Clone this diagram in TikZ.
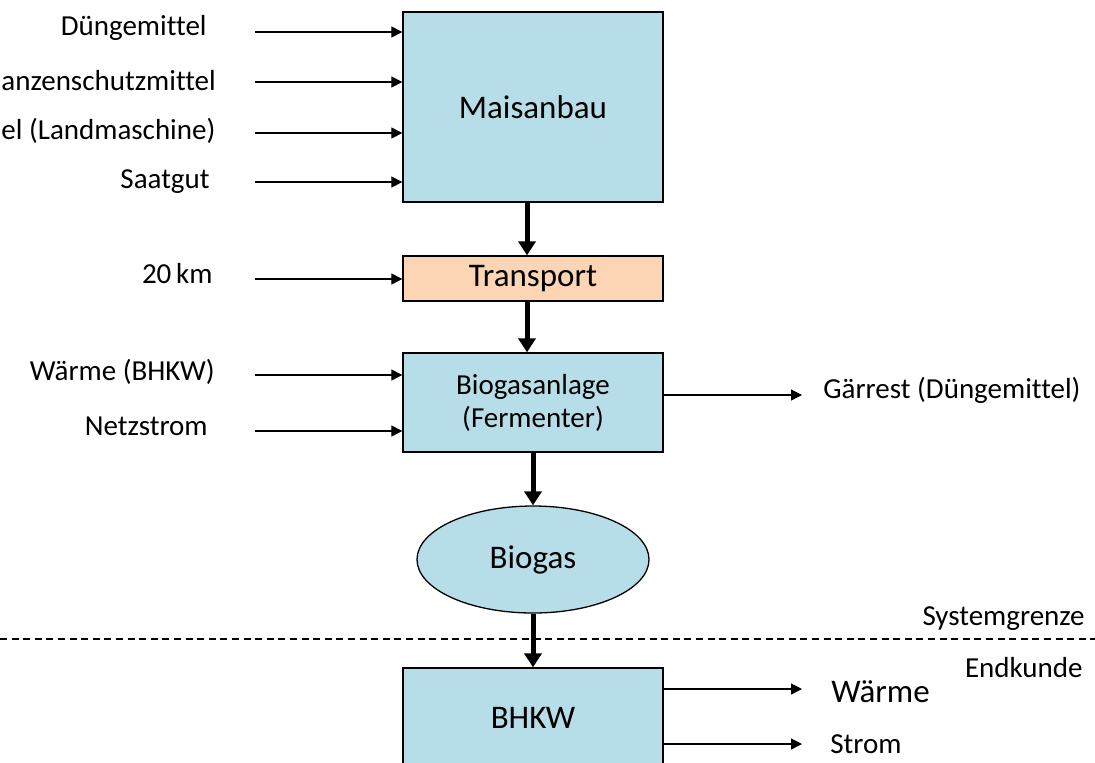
\documentclass[tikz,border=0pt]{standalone}
\usepackage{fontspec}
\setmainfont{Carlito}[Ligatures=NoCommon]
\usetikzlibrary{arrows.meta}
\usetikzlibrary{shapes.geometric}

\definecolor{boxblue}{RGB}{183,222,232}
\definecolor{boxorange}{RGB}{252,213,180}

\begin{document}
\begin{tikzpicture}[x=0.5pt,y=0.5pt,
    proc/.style={draw,line width=0.65pt,fill=boxblue,inner sep=0pt,minimum width=130pt,align=center},
    lbl/.style={inner sep=0pt,font=\fontsize{14.5}{16.5}\selectfont},
    big/.style={font=\fontsize{16.5}{19}\selectfont},
    inarrow/.style={line width=0.6pt,-{Triangle[length=5.5pt,width=5.5pt]}},
    flow/.style={line width=2.5pt,-{Triangle[length=7pt,width=8.5pt]}}]
        \useasboundingbox (0,0) rectangle (1095,-762);
        \clip (0,0) rectangle (1095,-762);
        % process chain
        \node[proc,big,minimum height=95pt] (mais) at (533,-107) {Maisanbau};
        \node[proc,big,fill=boxorange,minimum height=22.5pt] (trans) at (533,-278.5) {Transport};
        \node[proc,lbl,minimum height=49.5pt] (anlage) at (533,-402.5) {Biogasanlage\\(Fermenter)};
        \node[draw,ellipse,line width=0.65pt,fill=boxblue,inner sep=0pt,minimum width=116pt,minimum height=53.5pt,big] (gas) at (533,-559.5) {Biogas};
        \node[proc,big,minimum height=50pt] (bhkw) at (533,-718) {BHKW};
        \draw[flow] ([xshift=-3pt]mais.south) -- ([xshift=-3pt]trans.north);
        \draw[flow] ([xshift=-3pt]trans.south) -- ([xshift=-3pt]anlage.north);
        \draw[flow] (anlage.south) -- (gas.north);
        \draw[flow] (gas.south) -- (bhkw.north);
        % inputs
        \node[lbl,anchor=base east] (duenger) at (207,-35) {Düngemittel};
        \coordinate (duenger-in) at (255,-32);
        \draw[inarrow] (duenger-in) -- (duenger-in -| mais.west);
        \node[lbl,anchor=base west] (psm) at (1,-90) {anzenschutzmittel};
        \coordinate (psm-in) at (255,-82);
        \draw[inarrow] (psm-in) -- (psm-in -| mais.west);
        \node[lbl,anchor=base west] (diesel) at (1,-139) {el (Landmaschine)};
        \coordinate (diesel-in) at (255,-133);
        \draw[inarrow] (diesel-in) -- (diesel-in -| mais.west);
        \node[lbl,anchor=base east] (saat) at (210,-188) {Saatgut};
        \coordinate (saat-in) at (255,-182);
        \draw[inarrow] (saat-in) -- (saat-in -| mais.west);
        \node[lbl,anchor=base east] (km) at (213,-283) {20\,km};
        \coordinate (km-in) at (255,-279);
        \draw[inarrow] (km-in) -- (km-in -| trans.west);
        \node[lbl,anchor=base east] (waerme-in) at (215,-380) {Wärme (BHKW)};
        \coordinate (waerme-start) at (255,-375);
        \draw[inarrow] (waerme-start) -- (waerme-start -| anlage.west);
        \node[lbl,anchor=base east] (netz) at (208,-435) {Netzstrom};
        \coordinate (netz-in) at (255,-431);
        \draw[inarrow] (netz-in) -- (netz-in -| anlage.west);
        % outputs
        \coordinate (rest-out) at (802,-395);
        \draw[inarrow] (rest-out -| anlage.east) -- (rest-out);
        \node[lbl,anchor=base west] (rest) at (823,-398) {Gärrest (Düngemittel)};
        \coordinate (waerme-out) at (802,-689);
        \draw[inarrow] (waerme-out -| bhkw.east) -- (waerme-out);
        \node[lbl,big,anchor=base west] (waerme) at (831,-702) {Wärme};
        \coordinate (strom-out) at (802,-744);
        \draw[inarrow] (strom-out -| bhkw.east) -- (strom-out);
        \node[lbl,anchor=base west] (strom) at (830,-753) {Strom};
        % system boundary
        \coordinate (sg-l) at (0,-639);
        \coordinate (sg-r) at (1095,-639);
        \draw[line width=0.8pt,dash pattern=on 3.5pt off 2.3pt] (sg-l) -- (sg-r);
        \node[lbl,anchor=base east] (sg) at (1085,-625) {Systemgrenze};
        \node[lbl,anchor=base east] (kunde) at (1083,-677) {Endkunde};
\end{tikzpicture}
\end{document}
